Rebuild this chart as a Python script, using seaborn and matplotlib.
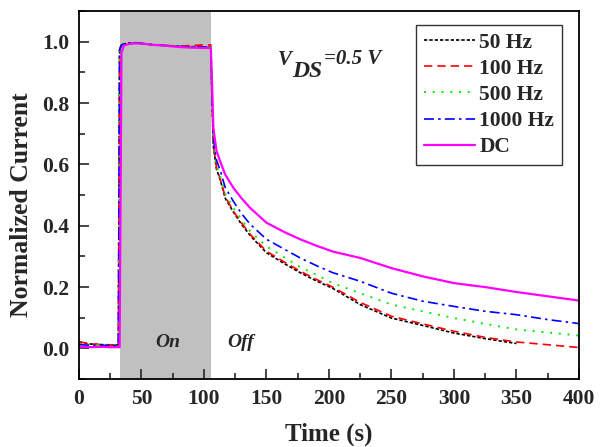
import matplotlib
matplotlib.use("Agg")
import matplotlib.pyplot as plt
import numpy as np
import pandas as pd
import seaborn as sns
from matplotlib.ticker import MultipleLocator

# time axis (s) and normalized current
time = [0, 5, 10, 15, 20, 25, 30, 31.5, 32.5, 34, 36, 40, 45, 50, 60, 70, 80,
        90, 100, 105.5, 106.5, 107.5, 110, 113, 117, 123.5, 130, 137, 150, 165,
        177, 190, 203, 225, 250, 275, 300, 325, 350, 375, 400]

hz50 = [.020, .016, .014, .013, .012, .011, .011, .012, .975, .99, .993, .996,
        .997, .995, .99, .988, .985, .984, .983, .982, .80, .66, .585, .55, .49,
        .445, .405, .368, .312, .275, .247, .22, .196, .143, .099, .075, .05,
        .032, .016, None, None]
hz100 = [.022, .018, .015, .013, .012, .012, .011, .012, .975, .99, .993, .996,
         .997, .995, .99, .988, .986, .988, .99, .99, .80, .665, .59, .553, .495,
         .448, .41, .372, .317, .28, .252, .225, .2, .15, .105, .08, .056,
         .036, .021, .012, .003]
hz500 = [.015, .013, .012, .011, .011, .010, .010, .010, .975, .99, .993, .996,
         .997, .995, .99, .988, .985, .984, .983, .982, .80, .675, .595, .56,
         .505, .458, .42, .382, .333, .295, .265, .24, .213, .18, .143, .121,
         .099, .08, .062, .052, .042]
hz1000 = [.012, .011, .010, .010, .010, .010, .010, .010, .975, .99, .993, .996,
          .997, .995, .99, .988, .985, .984, .983, .982, .82, .685, .615, .58,
          .525, .48, .44, .405, .356, .322, .295, .27, .247, .219, .18, .154,
          .137, .121, .11, .094, .081]
dc = [.005, .005, .004, .005, .005, .004, .004, .004, .004, .965, .988, .993,
      .995, .994, .99, .987, .983, .981, .98, .98, .86, .72, .645, .61, .567,
      .524, .49, .458, .41, .378, .356, .335, .316, .295, .262, .235, .213,
      .2, .184, .17, .156]

labels = ["50 Hz", "100 Hz", "500 Hz", "1000 Hz", "DC"]
series = [hz50, hz100, hz500, hz1000, dc]
colors = ["black", "#ff0000", "#00ee00", "#0000ff", "#ff00ff"]
styles = [(0, (2, 1.2)), (0, (5, 3)), (0, (1, 3.5)), (0, (6, 2.5, 1.5, 2.5)), "-"]
widths = [1.2, 1.2, 1.4, 1.2, 1.6]

on_start, on_end = 33, 105.6

sns.set_style("ticks")
plt.rcParams["font.family"] = ["Liberation Serif", "DejaVu Serif"]
plt.rcParams["font.weight"] = "bold"

fig = plt.figure(figsize=(6.03, 4.47), dpi=100)
ax = fig.add_axes([0.131, 0.152, 0.829, 0.823])

ax.axvspan(on_start, on_end, color="#c0c0c0", lw=0, zorder=0)

for lab, vals, c, ls, lw in zip(labels, series, colors, styles, widths):
    df = pd.DataFrame({"t": time, "v": vals}).dropna()
    sns.lineplot(data=df, x="t", y="v", ax=ax, color=c, linestyle=ls,
                 linewidth=lw, label=lab, estimator=None)

ax.set_xlim(0, 400)
ax.set_ylim(-0.1, 1.1)
ax.xaxis.set_major_locator(MultipleLocator(50))
ax.xaxis.set_minor_locator(MultipleLocator(25))
ax.yaxis.set_minor_locator(MultipleLocator(0.1))
ax.set_yticks([0.0, 0.2, 0.4, 0.6, 0.8, 1.0])
ax.tick_params(which="both", direction="in", top=False, right=False,
               width=1.2, labelsize=15.5, pad=7)
ax.tick_params(which="major", length=7)
ax.tick_params(which="minor", length=4)
for sp in ax.spines.values():
    sp.set_linewidth(1.3)
    sp.set_color("black")
for t in ax.get_xticklabels() + ax.get_yticklabels():
    t.set_fontweight("bold")

ax.set_xlabel("Time (s)", fontsize=18, fontweight="bold", labelpad=10)
ax.set_ylabel("Normalized Current", fontsize=18.5, fontweight="bold")
ax.yaxis.set_label_coords(-0.092, 0.473)

ax.text(71, 0.018, "On", fontsize=14, fontweight="bold", style="italic",
        ha="center", va="center")
ax.text(129, 0.018, "Off", fontsize=14, fontweight="bold", style="italic",
        ha="center", va="center")
# V_DS=0.5 V label, pieced together like the original
ax.text(159, 0.925, "V", fontsize=15, fontweight="bold", style="italic",
        va="baseline")
ax.text(170.5, 0.884, "DS", fontsize=17, fontweight="bold", style="italic",
        va="baseline")
ax.text(196, 0.928, "=0.5 V", fontsize=15, fontweight="bold", style="italic",
        va="baseline")

leg = ax.legend(loc="upper right", bbox_to_anchor=(0.994, 1.0), fontsize=15.5,
                frameon=True, fancybox=False, edgecolor="black",
                handlelength=2.4, handletextpad=0.2, labelspacing=0.28,
                borderaxespad=0.65, borderpad=0.35)
leg.get_frame().set_linewidth(1.0)
for t in leg.get_texts():
    t.set_fontweight("bold")

fig.savefig("out.png", dpi=100)
